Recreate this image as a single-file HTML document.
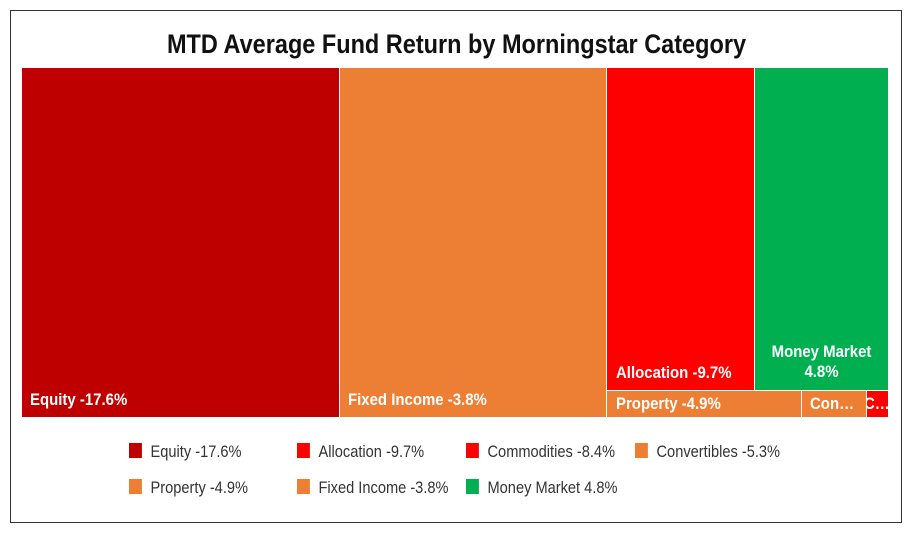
<!DOCTYPE html><html><head><style>
body{margin:0;width:913px;height:538px;background:#fff;font-family:"Liberation Sans",sans-serif;position:relative;overflow:hidden}
.frame{position:absolute;left:10px;top:10px;width:890px;height:511px;border:1px solid #333}
.t{position:absolute;left:0;width:913px;top:29px;text-align:center;font-size:27px;font-weight:bold;color:#111;transform:scaleX(0.87);transform-origin:center}
.b{position:absolute;box-sizing:border-box;color:#fff;font-weight:bold;font-size:17px}
.b span{position:absolute;white-space:nowrap;transform:scaleX(0.88);transform-origin:left}
.lg{position:absolute;font-size:17px;color:#333;white-space:nowrap;transform:scaleX(0.86);transform-origin:left}
.lg i{display:inline-block;width:15px;height:15px;vertical-align:-1px;margin-right:10px}
</style></head><body>
<div class="frame"></div>
<div class="t">MTD Average Fund Return by Morningstar Category</div>
<div class="b" style="left:22px;top:68px;width:317px;height:349px;background:#be0000"><span style="left:8px;bottom:7px">Equity -17.6%</span></div>
<div class="b" style="left:340px;top:68px;width:266px;height:349px;background:#ed7f35"><span style="left:8px;bottom:7px">Fixed Income -3.8%</span></div>
<div class="b" style="left:607px;top:68px;width:147px;height:322px;background:#ff0000"><span style="left:9px;bottom:7px">Allocation -9.7%</span></div>
<div class="b" style="left:755px;top:68px;width:133px;height:322px;background:#00b050"><span style="left:0;width:133px;text-align:center;bottom:8px;line-height:20px;white-space:normal;transform:scaleX(0.88);transform-origin:center">Money Market<br>4.8%</span></div>
<div class="b" style="left:607px;top:391px;width:194px;height:26px;background:#ed7f35"><span style="left:9px;top:3px">Property -4.9%</span></div>
<div class="b" style="left:802px;top:391px;width:64px;height:26px;background:#ed7f35"><span style="left:8px;top:3px">Con…</span></div>
<div class="b" style="left:867px;top:391px;width:21px;height:26px;background:#ff0000;overflow:hidden"><span style="left:-3px;top:3px">C…</span></div>
<div class="lg" style="left:129px;top:442px"><i style="background:#be0000"></i>Equity -17.6%</div>
<div class="lg" style="left:297px;top:442px"><i style="background:#ff0000"></i>Allocation -9.7%</div>
<div class="lg" style="left:466px;top:442px"><i style="background:#ff0000"></i>Commodities -8.4%</div>
<div class="lg" style="left:635px;top:442px"><i style="background:#ed7f35"></i>Convertibles -5.3%</div>
<div class="lg" style="left:129px;top:478px"><i style="background:#ed7f35"></i>Property -4.9%</div>
<div class="lg" style="left:297px;top:478px"><i style="background:#ed7f35"></i>Fixed Income -3.8%</div>
<div class="lg" style="left:466px;top:478px"><i style="background:#00b050"></i>Money Market 4.8%</div>
</body></html>
